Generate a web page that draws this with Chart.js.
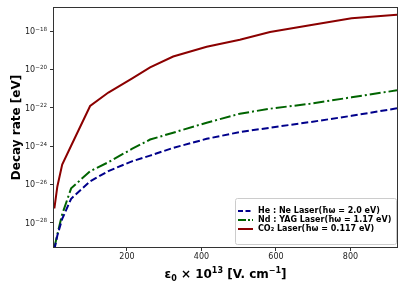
<!DOCTYPE html>
<html>
<head>
<meta charset="utf-8">
<script src="https://cdn.jsdelivr.net/npm/chart.js@4"></script>
<style>
  html, body { margin: 0; padding: 0; background: #fff; }
  canvas { display: block; }
</style>
</head>
<body>
<canvas id="decayChart" width="406" height="290"></canvas>
<script>
// field strength eps0 x 10^13 [V/cm]
const fieldValues = [5, 13, 26, 50, 101, 150, 213, 262, 324, 414, 503, 584, 691, 803, 925];

// decay rate [eV]
const heNeRate = [4.0e-30, 2.2e-29, 1.6e-28, 1.8e-27, 1.45e-26, 5.0e-26, 1.6e-25, 3.2e-25,
  8.1e-25, 2.4e-24, 5.4e-24, 9.1e-24, 1.78e-23, 3.8e-23, 9.3e-23];
const ndYagRate = [5.0e-30, 2.5e-29, 2.8e-28, 6.3e-27, 4.9e-26, 1.45e-25, 7.1e-25, 2.2e-24,
  5.0e-24, 1.66e-23, 4.9e-23, 8.9e-23, 1.62e-22, 3.5e-22, 8.1e-22];
const co2Rate = [5.6e-28, 7.9e-27, 1.1e-25, 1.05e-24, 1.23e-22, 6.2e-22, 3.3e-21, 1.26e-20,
  4.7e-20, 1.5e-19, 3.5e-19, 8.9e-19, 2.0e-18, 4.6e-18, 7.1e-18];

const seriesLabels = [
  'He : Ne Laser(ħω = 2.0 eV)',
  'Nd : YAG Laser(ħω = 1.17 eV)',
  'CO₂ Laser(ħω = 0.117 eV)'
];
const xTickValues = [200, 400, 600, 800];
const yTickExponents = [-28, -26, -24, -22, -20, -18];

const pts = (ys) => fieldValues.map((x, i) => ({ x, y: ys[i] }));

const styles = [
  { color: '#00008b', dash: [7, 3], legendDash: [5, 2.5] },
  { color: '#006400', dash: [11, 3, 2, 3], legendDash: [8, 2, 2, 2] },
  { color: '#8b0000', dash: [], legendDash: [] }
];

// draws pieces of text with different size / vertical shift, returns width
function richText(ctx, parts, x, y, weight, measureOnly) {
  let cx = x;
  parts.forEach(([txt, size, dy]) => {
    ctx.font = weight + ' ' + size + 'px "DejaVu Sans"';
    if (!measureOnly) ctx.fillText(txt, cx, y + dy);
    cx += ctx.measureText(txt).width;
  });
  return cx - x;
}

// frame, y tick labels, x title and legend drawn like matplotlib
const framePlugin = {
  id: 'frame',
  afterDraw(chart) {
    const { ctx, chartArea: a } = chart;
    ctx.save();
    ctx.strokeStyle = '#333';
    ctx.lineWidth = 1;
    ctx.strokeRect(a.left - 0.5, a.top - 0.5, a.right - a.left + 1, a.bottom - a.top + 1);

    // y tick labels 10^n
    const yScale = chart.scales.y;
    ctx.fillStyle = '#222';
    ctx.textBaseline = 'alphabetic';
    ctx.textAlign = 'left';
    yTickExponents.forEach((e) => {
      const py = yScale.getPixelForValue(Math.pow(10, e));
      const parts = [['10', 8, 0], ['−' + Math.abs(e), 5.6, -3.5]];
      const w = richText(ctx, parts, 0, 0, 'normal', true);
      richText(ctx, parts, a.left - 7 - w, py + 3, 'normal', false);
    });

    // x axis title
    ctx.fillStyle = '#000';
    const tParts = [['ε', 12, 0], ['0', 8, 2.5], [' × 10', 12, 0], ['13', 8, -5],
      [' [V. cm', 12, 0], ['−1', 8, -5], [']', 12, 0]];
    const tw = richText(ctx, tParts, 0, 0, 'bold', true);
    richText(ctx, tParts, (a.left + a.right) / 2 - tw / 2, 278, 'bold', false);

    // legend box
    const bx = 235.5, by = 198.5, bw = 161, bh = 46;
    ctx.fillStyle = 'rgba(255,255,255,0.85)';
    ctx.strokeStyle = '#cccccc';
    ctx.beginPath();
    ctx.roundRect(bx, by, bw, bh, 2);
    ctx.fill();
    ctx.stroke();

    ctx.font = 'bold 8px "DejaVu Sans"';
    ctx.textBaseline = 'middle';
    const rows = [211, 220, 229];
    seriesLabels.forEach((label, i) => {
      ctx.strokeStyle = styles[i].color;
      ctx.lineWidth = 2;
      ctx.setLineDash(styles[i].legendDash);
      ctx.beginPath();
      ctx.moveTo(238, rows[i]);
      ctx.lineTo(253, rows[i]);
      ctx.stroke();
      ctx.setLineDash([]);
      ctx.fillStyle = '#000';
      const maxW = 134;
      const w = ctx.measureText(label).width;
      ctx.save();
      ctx.translate(258, rows[i]);
      if (w > maxW) ctx.scale(maxW / w, 1);
      ctx.fillText(label, 0, 0);
      ctx.restore();
    });
    ctx.restore();
  }
};

new Chart(document.getElementById('decayChart'), {
  type: 'line',
  data: {
    datasets: [heNeRate, ndYagRate, co2Rate].map((ys, i) => ({
      label: seriesLabels[i],
      data: pts(ys),
      borderColor: styles[i].color,
      borderDash: styles[i].dash,
      borderWidth: 2,
      pointRadius: 0,
      tension: 0,
      fill: false
    }))
  },
  options: {
    responsive: false,
    animation: false,
    layout: { padding: { top: 8, right: 9, left: 0, bottom: 0 } },
    plugins: { legend: { display: false }, tooltip: { enabled: false } },
    scales: {
      x: {
        type: 'linear',
        min: 4,
        max: 925,
        afterBuildTicks: (s) => { s.ticks = xTickValues.map((v) => ({ value: v })); },
        afterFit: (s) => { s.height = 43; },
        grid: { drawOnChartArea: false, tickLength: 4, color: '#333' },
        border: { display: false },
        ticks: { color: '#222', font: { family: 'DejaVu Sans', size: 8 }, padding: 1, maxRotation: 0 }
      },
      y: {
        type: 'logarithmic',
        bounds: 'data',
        min: Math.pow(10, -29.26),
        max: Math.pow(10, -16.8),
        afterBuildTicks: (s) => { s.ticks = yTickExponents.map((e) => ({ value: Math.pow(10, e) })); },
        afterFit: (s) => { s.width = 54; },
        grid: { drawOnChartArea: false, tickLength: 4, color: '#333' },
        border: { display: false },
        ticks: { display: true, color: 'rgba(0,0,0,0)', font: { size: 1 }, callback: () => '' },
        title: {
          display: true,
          text: 'Decay rate [eV]',
          color: '#000',
          font: { family: 'DejaVu Sans', size: 12, weight: 'bold' },
          padding: { top: 10, bottom: 0 }
        }
      }
    }
  },
  plugins: [framePlugin]
});
</script>
</body>
</html>
